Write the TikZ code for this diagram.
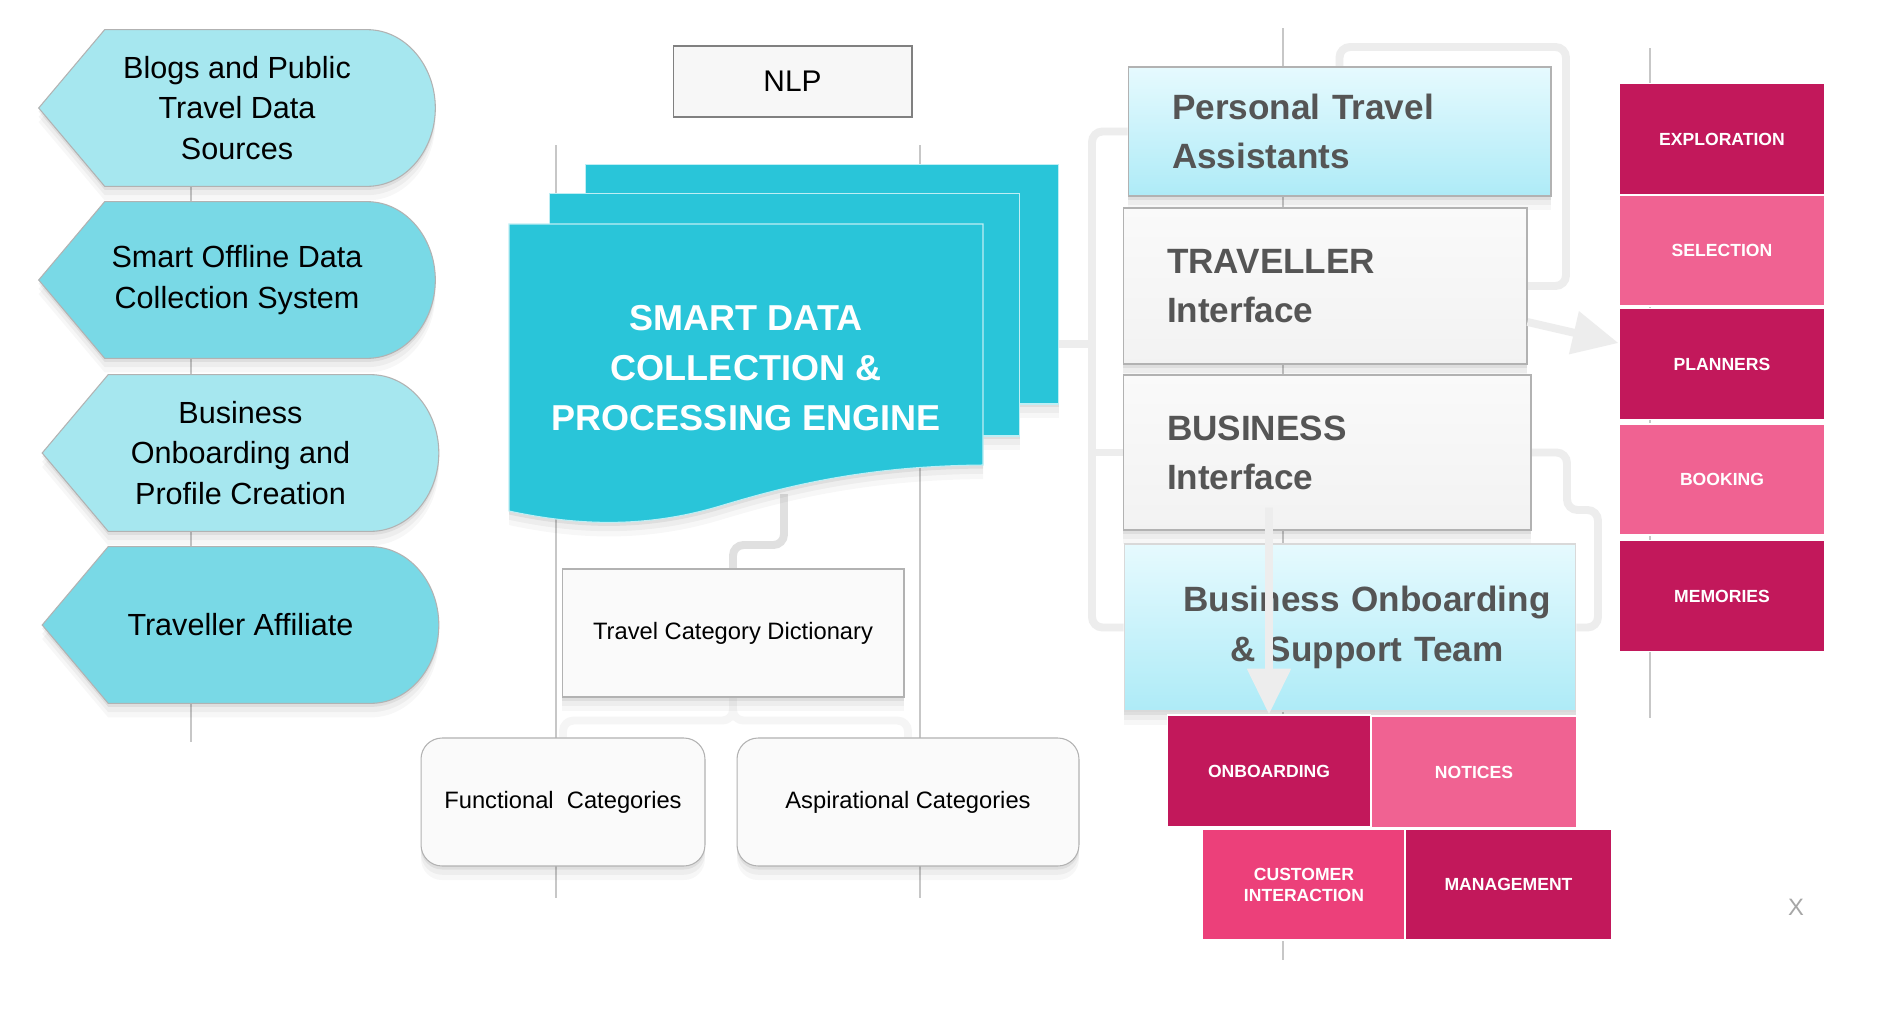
\documentclass[tikz,border=0pt]{standalone}
\usepackage{fontspec}
\setmainfont{Liberation Sans}
\usetikzlibrary{arrows.meta,shadows}

\definecolor{srclight}{HTML}{A6E7EF}
\definecolor{srcdark}{HTML}{79D9E6}
\definecolor{sheetblue}{HTML}{29C5D9}
\definecolor{pinkdark}{HTML}{C2185B}
\definecolor{pinklight}{HTML}{F06292}
\definecolor{pinkmid}{HTML}{EC407A}
\definecolor{paneltop}{HTML}{E6FAFE}
\definecolor{panelbot}{HTML}{AEEBF7}
\definecolor{labelgray}{HTML}{555555}

\pgfdeclarelayer{bg}
\pgfdeclarelayer{shape}
\pgfsetlayers{bg,shape,main}

\tikzset{
  softshadow/.style={drop shadow={shadow xshift=0pt,shadow yshift=-2pt,opacity=.06,fill=black},
                     drop shadow={shadow xshift=0pt,shadow yshift=-5pt,opacity=.04,fill=black},
                     drop shadow={shadow xshift=0pt,shadow yshift=-8pt,opacity=.03,fill=black}},
  srctext/.style={minimum width=7.92cm,minimum height=3.12cm,inner sep=0pt,align=center,
                  font=\fontsize{17.4}{23.2}\selectfont},
  srcline/.style={draw=black!30,line width=.6pt,softshadow},
  sheet/.style={fill=sheetblue,draw=white!70!sheetblue,line width=.6pt,softshadow},
  catbox/.style={draw=black!30,fill=black!2,line width=.6pt,softshadow,
                 font=\fontsize{13.5}{16}\selectfont},
  panel/.style={draw=black!30,line width=.6pt,inner xsep=.88cm,align=left,text=labelgray,
                font=\fontsize{20}{28}\selectfont\bfseries,softshadow},
  pinkbox/.style={minimum width=4.12cm,minimum height=2.22cm,inner sep=0pt,align=center,
                  text=white,draw=white,line width=.7pt,font=\fontsize{10}{12}\selectfont\bfseries},
  orgline/.style={draw=black!22,line width=.6pt},
  faint/.style={draw=black!7,line width=4.5pt,rounded corners=6pt},
  bigarrow/.style={draw=black!7,line width=4.5pt,-{Triangle[length=26pt,width=24pt]}},
}

\begin{document}
\begin{tikzpicture}[x=0.02cm,y=-0.02cm]
   \begin{pgfonlayer}{bg}
   \fill[white] (0,0) rectangle (1877,1008);
   \end{pgfonlayer}
   \useasboundingbox (0,0) rectangle (1877,1008);

   % data sources
   \node[srctext] (blogs) at (237,108) {Blogs and Public\\Travel Data\\Sources};
   \node[srctext] (offline) at (237,280) {Smart Offline Data\\Collection System};
   \node[srctext] (bizprof) at (240.5,453) {Business\\Onboarding and\\Profile Creation};
   \node[srctext] (affiliate) at (240.5,625) {Traveller Affiliate};
   \begin{pgfonlayer}{shape}
   \foreach \n/\c in {blogs/srclight,offline/srcdark,bizprof/srclight,affiliate/srcdark}
      \draw[srcline,fill=\c] (\n.west) -- ([xshift=1.32cm]\n.north west) -- ([xshift=-1.36cm]\n.north east)
         .. controls ([xshift=-0.61cm]\n.north east) and ([yshift=0.86cm]\n.east) .. (\n.east)
         .. controls ([yshift=-0.86cm]\n.east) and ([xshift=-0.61cm]\n.south east) .. ([xshift=-1.36cm]\n.south east)
         -- ([xshift=1.32cm]\n.south west) -- cycle;
   \end{pgfonlayer}

   % engine
   \node[draw=black!50,fill=black!3,line width=.6pt,minimum width=4.78cm,minimum height=1.42cm,
         font=\fontsize{17}{20}\selectfont] (nlp) at (792.5,81.5) {NLP};
   \node[sheet,minimum width=9.48cm,minimum height=4.8cm] (sheetc) at (822,284) {};
   \node[sheet,minimum width=9.42cm,minimum height=4.86cm] (sheetb) at (784.5,314.5) {};
   \draw[sheet] (509,224) -- (983,224) -- (983,465) .. controls (860,466) and (780,488) .. (720,506)
      .. controls (640,530) and (570,524) .. (509,511) -- cycle;
   \node[text=white,align=center,font=\fontsize{20.5}{28.5}\selectfont\bfseries] (engine) at (746,368)
      {SMART DATA\\COLLECTION \&\\PROCESSING ENGINE};
   \coordinate (wavept) at (784,494);

   % categories
   \node[catbox,minimum width=6.84cm,minimum height=2.56cm] (dict) at (733,633) {Travel Category Dictionary};
   \node[catbox,rounded corners=12pt,minimum width=5.68cm,minimum height=2.56cm] (func) at (563,802) {Functional\ \ Categories};
   \node[catbox,rounded corners=12pt,minimum width=6.84cm,minimum height=2.56cm] (asp) at (908,802) {Aspirational Categories};

   % interfaces
   \node[panel,top color=paneltop,bottom color=panelbot,minimum width=8.46cm,text width=6.7cm,
         minimum height=2.58cm] (pta) at (1339.5,131.5) {Personal Travel\\Assistants};
   \node[panel,top color=white!98!black,bottom color=white!95!black,minimum width=8.08cm,text width=6.32cm,
         minimum height=3.12cm] (travif) at (1325,286) {TRAVELLER\\Interface};
   \node[panel,top color=white!98!black,bottom color=white!95!black,minimum width=8.16cm,text width=6.4cm,
         minimum height=3.1cm] (bizif) at (1327,452.5) {BUSINESS\\Interface};
   \node[panel,top color=paneltop,bottom color=panelbot,draw=black!15,inner xsep=.22cm,align=center,
         minimum width=9.04cm,text width=8.6cm,minimum height=3.34cm] (team) at (1350,627.5)
         {\hspace*{0.68cm}Business Onboarding\\\hspace*{0.68cm}\& Support Team};

   % team tiles
   \node[pinkbox,fill=pinkdark,minimum width=4.06cm,minimum height=2.24cm] (onb) at (1269,771) {ONBOARDING};
   \node[pinkbox,fill=pinklight,minimum width=4.12cm,minimum height=2.24cm] (notices) at (1474,772) {NOTICES};
   \node[pinkbox,fill=pinkmid,minimum width=4.06cm] (custint) at (1304,884.5) {CUSTOMER\\INTERACTION};
   \node[pinkbox,fill=pinkdark,minimum width=4.14cm] (mgmt) at (1508.5,884.5) {MANAGEMENT};

   % traveller stages
   \node[pinkbox,fill=pinkdark] (expl) at (1722,139) {EXPLORATION};
   \node[pinkbox,fill=pinklight] (sel) at (1722,250.5) {SELECTION};
   \node[pinkbox,fill=pinkdark] (plan) at (1722,364) {PLANNERS};
   \node[pinkbox,fill=pinklight] (book) at (1722,479.5) {BOOKING};
   \node[pinkbox,fill=pinkdark] (mem) at (1722,596) {MEMORIES};

   \node[text=black!35,font=\fontsize{13.5}{16}\selectfont] (closex) at (1796,907) {X};

   % connectors
   \begin{pgfonlayer}{bg}
   \coordinate (lcol) at (191,742);
   \draw[orgline] (blogs.south -| lcol) -- (lcol);
   \coordinate (ccola) at (556,145);
   \coordinate (ccolb) at (920,145);
   \draw[orgline] (ccola) -- ++(0,753);
   \draw[orgline] (ccolb) -- ++(0,753);
   \coordinate (rtop) at (1283,28);
   \coordinate (rcol) at (1283,960);
   \draw[orgline] (rtop) -- (rcol);
   \coordinate (ptop) at (1650,48);
   \coordinate (pbot) at (1650,718);
   \draw[orgline] (ptop) -- (pbot);

   \coordinate (trunkbot) at (1092,627.5);
   \draw[faint] (pta.west) -| (trunkbot) -- (team.west);
   \draw[faint] (bizif.west) -- (bizif.west -| trunkbot);
   \draw[faint] ([yshift=-1.2cm]sheetc.east) -- ([yshift=-1.2cm]sheetc.east -| trunkbot);
   \coordinate (loopc) at (1566,47);
   \draw[faint] (pta.north) |- (loopc) |- (travif.east);
   \coordinate (bizc) at (1567,510);
   \coordinate (bizd) at (1598,627.5);
   \draw[faint] (bizif.east) -| (bizc) -| (bizd) -- (team.east);
   \coordinate (dictbend) at (733,545);
   \draw[faint,draw=black!12] (wavept) |- (dictbend) -- (dict.north);
   \draw[faint,draw=black!4] (dict.south) -- ++(0,23) -| (func.north);
   \draw[faint,draw=black!4] (dict.south) -- ++(0,23) -| (asp.north);
   \end{pgfonlayer}

   \draw[bigarrow] ([yshift=-0.72cm]travif.east) -- ([yshift=0.42cm]plan.west);
   \draw[bigarrow] ([xshift=-1.16cm,yshift=0.46cm]bizif.south) -- (onb.north);
\end{tikzpicture}
\end{document}
